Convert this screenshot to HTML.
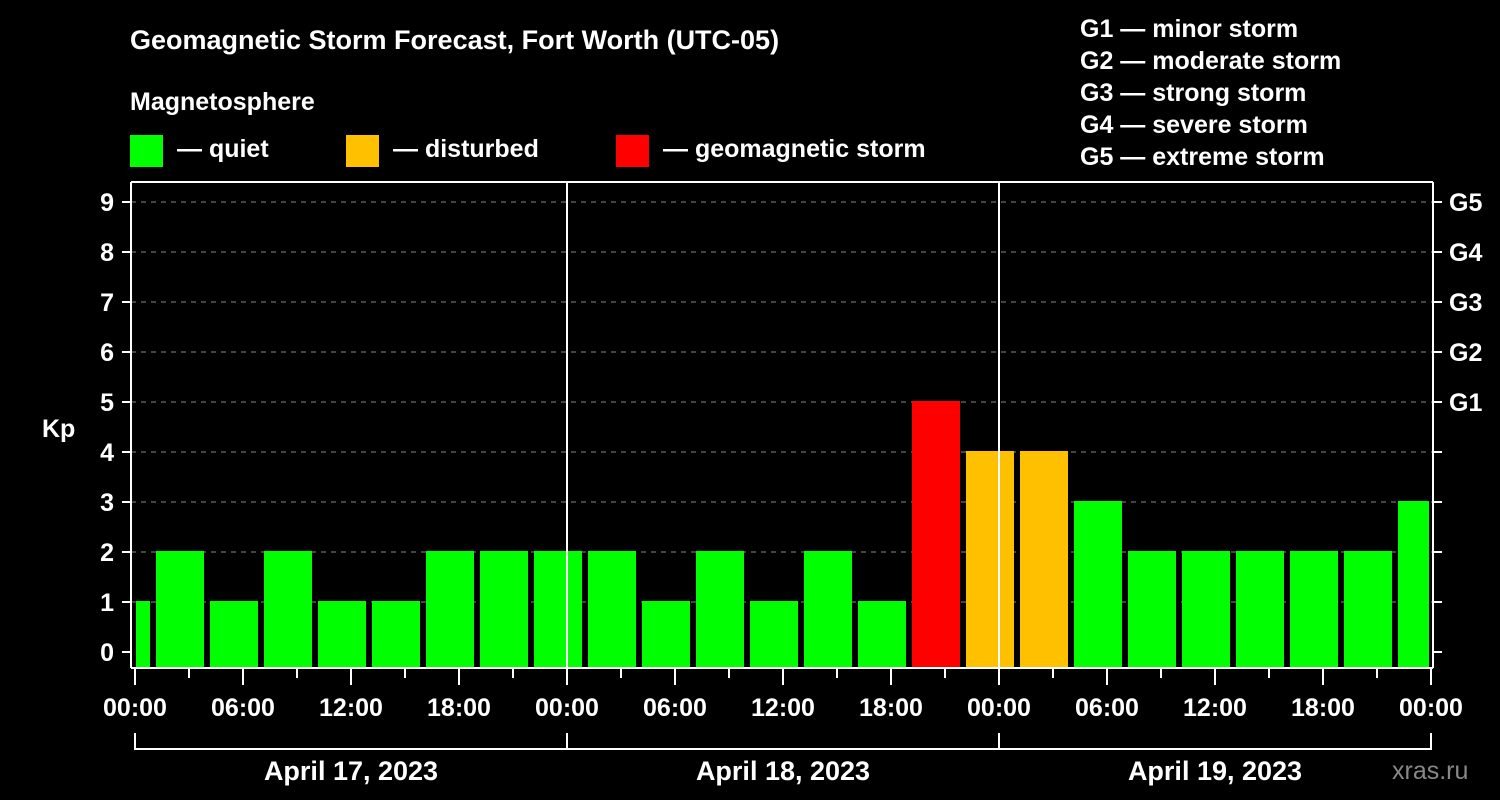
<!DOCTYPE html>
<html><head><meta charset="utf-8">
<style>
body{margin:0;background:#000;}
svg{display:block;font-family:"Liberation Sans",Arial,sans-serif;font-weight:bold;}
</style></head><body>
<svg width="1500" height="800" viewBox="0 0 1500 800">
<rect width="1500" height="800" fill="#000"/>
<text x="130" y="49" fill="#fff" font-size="27">Geomagnetic Storm Forecast, Fort Worth (UTC-05)</text>
<text x="130" y="110" fill="#fff" font-size="25">Magnetosphere</text>
<g>
<rect x="130" y="135" width="33" height="32" fill="#00ff00"/>
<text x="177" y="157" fill="#fff" font-size="25">— quiet</text>
<rect x="346" y="135" width="33" height="32" fill="#ffc000"/>
<text x="393" y="157" fill="#fff" font-size="25">— disturbed</text>
<rect x="616" y="135" width="33" height="32" fill="#ff0000"/>
<text x="663" y="157" fill="#fff" font-size="25">— geomagnetic storm</text>
</g>
<g fill="#fff" font-size="25">
<text x="1080" y="37">G1 — minor storm</text>
<text x="1080" y="69">G2 — moderate storm</text>
<text x="1080" y="101">G3 — strong storm</text>
<text x="1080" y="133">G4 — severe storm</text>
<text x="1080" y="165">G5 — extreme storm</text>
</g>
<text x="42" y="437" fill="#fff" font-size="25">Kp</text>
<text x="1392" y="779" fill="#888" font-size="25" font-weight="normal">xras.ru</text>
<g id="grid"></g>
<g id="bars"></g>
<g id="axes"></g>
</svg>
<script>
const kpValues=[1,2,1,2,1,1,2,2,2,2,1,2,1,2,1,5,4,4,3,2,2,2,2,2,3];
const firstBinStartHour=-2;
const binHours=3;
const yTicks=[0,1,2,3,4,5,6,7,8,9];
const gLabels=["G1","G2","G3","G4","G5"];
const gLevels=[5,6,7,8,9];
const xTickLabels=["00:00","06:00","12:00","18:00","00:00","06:00","12:00","18:00","00:00","06:00","12:00","18:00","00:00"];
const dayLabels=["April 17, 2023","April 18, 2023","April 19, 2023"];

const NS="http://www.w3.org/2000/svg";
const X0=135,PX_H=18,Y0=652,PX_K=50,TOP=182,BOT=668,LEFT=131,RIGHT=1433;
const xs=h=>X0+h*PX_H, ys=k=>Y0-k*PX_K;
function mk(tag,attrs,parent){const e=document.createElementNS(NS,tag);for(const k in attrs)e.setAttribute(k,attrs[k]);document.getElementById(parent).appendChild(e);return e;}
function color(k){return k>=5?"#ff0000":k>=4?"#ffc000":"#00ff00";}

yTicks.forEach(k=>{
 if(k===0)return;
 const l=mk("line",{x1:LEFT,x2:RIGHT,y1:ys(k),y2:ys(k),stroke:"#888","stroke-width":1,"stroke-dasharray":"5,5"},"grid");
 
 
});

kpValues.forEach((k,i)=>{
 let a=xs(firstBinStartHour+i*binHours)+3,b=xs(firstBinStartHour+(i+1)*binHours)-3;
 a=Math.max(a,LEFT+5);b=Math.min(b,RIGHT-4);
 const r=mk("rect",{x:a,y:ys(k)-1,width:b-a,height:BOT-ys(k)+1,fill:color(k)},"bars");
 
 
});

const ax="axes";
[[LEFT,TOP,RIGHT,TOP],[LEFT,TOP,LEFT,BOT],[RIGHT,TOP,RIGHT,BOT],[LEFT,BOT,RIGHT,BOT]].forEach(c=>{
 const l=mk("line",{x1:c[0],y1:c[1],x2:c[2],y2:c[3],stroke:"#fff","stroke-width":2},ax);
 
 
});
[1,2].forEach(d=>{
 const l=mk("line",{x1:xs(d*24),x2:xs(d*24),y1:TOP,y2:BOT,stroke:"#fff","stroke-width":2},ax);
 
 
});
yTicks.forEach(k=>{
 const t=mk("line",{x1:122,x2:LEFT,y1:ys(k),y2:ys(k),stroke:"#fff","stroke-width":2},ax);
 
 
 const t2=mk("line",{x1:RIGHT,x2:1442,y1:ys(k),y2:ys(k),stroke:"#fff","stroke-width":2},ax);
 
 
 const tx=mk("text",{x:114,y:ys(k)+9,fill:"#fff","font-size":25,"text-anchor":"end"},ax);
 tx.textContent=k;
 
 
});
gLabels.forEach((g,i)=>{
 const tx=mk("text",{x:1449,y:ys(gLevels[i])+9,fill:"#fff","font-size":25},ax);
 tx.textContent=g;
 
 
});
for(let h=0;h<=72;h+=3){
 const major=h%6===0;
 const t=mk("line",{x1:xs(h),x2:xs(h),y1:BOT,y2:major?685:678,stroke:"#fff","stroke-width":2},ax);
 
 
}
xTickLabels.forEach((s,i)=>{
 const tx=mk("text",{x:xs(i*6),y:716,fill:"#fff","font-size":25,"text-anchor":"middle"},ax);
 tx.textContent=s;
 
 
});
const br=mk("line",{x1:xs(0),x2:xs(72),y1:749,y2:749,stroke:"#fff","stroke-width":2},ax);


for(let d=0;d<=3;d++){
 const t=mk("line",{x1:xs(d*24),x2:xs(d*24),y1:733,y2:750,stroke:"#fff","stroke-width":2},ax);
 
 
}
dayLabels.forEach((s,i)=>{
 const tx=mk("text",{x:xs(i*24+12),y:780,fill:"#fff","font-size":27,"text-anchor":"middle"},ax);
 tx.textContent=s;
 
 
});
</script>
</body></html>
